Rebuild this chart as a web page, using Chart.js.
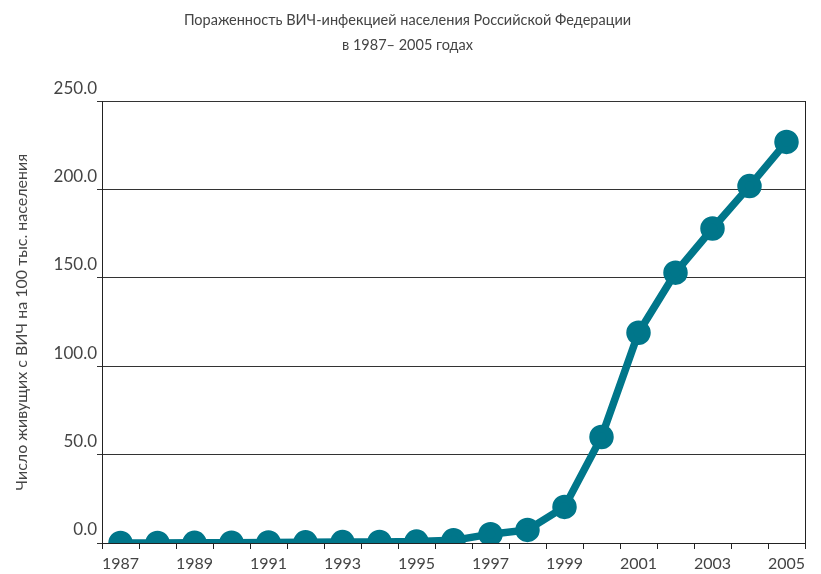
<!DOCTYPE html>
<html>
<head>
<meta charset="utf-8">
<script src="https://cdn.jsdelivr.net/npm/chart.js@4.4.1/dist/chart.umd.min.js"></script>
<style>
  html, body { margin: 0; padding: 0; background: #fff; }
  #wrap { width: 821px; height: 574px; }
</style>
</head>
<body>
<div id="wrap"><canvas id="hivChart" width="821" height="574"></canvas></div>
<script>
// Years on the x axis
const years = ['1987','1988','1989','1990','1991','1992','1993','1994','1995','1996',
  '1997','1998','1999','2000','2001','2002','2003','2004','2005'];
// People living with HIV per 100k population
const prevalence = [0.01, 0.03, 0.1, 0.2, 0.3, 0.4, 0.5, 0.6, 0.8, 1.5,
  5, 7.4, 20.4, 60, 119, 153, 178, 202, 227];
const titleLines = ['Пораженность ВИЧ-инфекцией населения Российской Федерации', 'в 1987– 2005 годах'];
const yTitle = 'Число живущих с ВИЧ на 100 тыс. населения';

const teal = '#00768a';
const textGrey = '#444';
const font = 'Lato, "Open Sans", sans-serif';

const ctx = document.getElementById('hivChart').getContext('2d');

new Chart(ctx, {
  type: 'line',
  data: {
    labels: years,
    datasets: [{
      data: prevalence,
      borderColor: teal,
      backgroundColor: teal,
      borderWidth: 7.5,
      pointRadius: 8.5,
      pointHoverRadius: 8.5,
      tension: 0
    }]
  },
  options: {
    responsive: false,
    animation: false,
    layout: { padding: { left: 0, right: 6, top: 0, bottom: 0 } },
    plugins: {
      legend: { display: false },
      tooltip: { enabled: false },
      title: {
        display: true,
        text: titleLines,
        color: textGrey,
        font: { family: font, size: 14.5, weight: 'normal', lineHeight: 1.7 },
        padding: { top: 8, bottom: 44 }
      }
    },
    scales: {
      x: {
        offset: true,
        grid: { offset: true, drawOnChartArea: false, color: '#222', tickLength: 6 },
        border: { color: '#222', width: 1 },
        ticks: {
          autoSkip: false,
          maxRotation: 0,
          color: textGrey,
          padding: 5,
          font: { family: font, size: 16 },
          callback: (v, i) => (i % 2 === 0 ? years[i] : '')
        },
        afterFit: s => { s.height = 31; }
      },
      y: {
        min: 0,
        max: 250,
        ticks: {
          stepSize: 50,
          color: textGrey,
          padding: 0,
          font: { family: font, size: 17, lineHeight: 1.55 },
          callback: v => [v.toFixed(1), '']
        },
        grid: { color: '#333', tickLength: 5 },
        border: { color: '#222', width: 1 },
        title: {
          display: true,
          text: yTitle,
          color: textGrey,
          font: { family: font, size: 16 },
          padding: { top: 12, bottom: 0 }
        },
        afterFit: s => { s.width = 102; }
      },
      y2: {
        position: 'right',
        min: 0,
        max: 250,
        ticks: { display: false },
        grid: { drawOnChartArea: false, drawTicks: false },
        border: { color: '#222', width: 1 },
        afterFit: s => { s.width = 0; }
      }
    }
  }
});
</script>
</body>
</html>
